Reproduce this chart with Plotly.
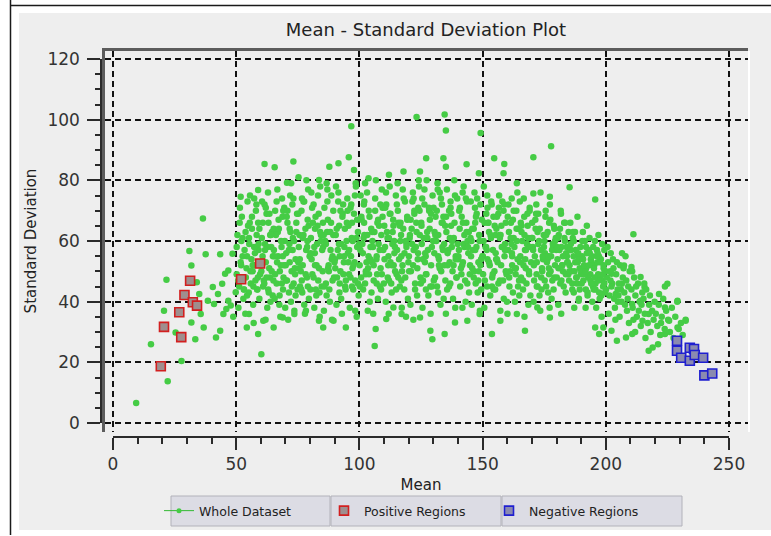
import plotly.graph_objects as go

# ---------------- data ----------------
whole_mean = [
    9.4, 15.4, 22.2, 27.8, 21.7, 20.7, 25.4, 31.8, 31.0, 36.5, 31.8, 37.6, 34.0, 35.0, 35.6, 36.8, 33.4,
    40.5, 43.5, 44.3, 42.6, 45.5, 46.8, 46.0, 44.8, 41.8, 43.5, 46.8, 48.5, 49.8, 47.8, 48.8, 41.0, 38.5,
    # top outliers
    61.5, 65.6, 73.2, 87.8, 91.5, 95.7, 96.7, 75.3, 70.6, 58.9, 51.8, 83.6, 97.8, 123.2, 134.6, 135.1,
    149.2, 127.1, 134.1, 135.1, 124.6, 143.5, 148.5, 103.7, 112.0, 117.9, 177.8, 170.6, 154.7, 158.8,
    158.5, 163.9, 185.3, 195.7, 170.6, 177.3, 211.2,
    # lower edge
    60.2, 58.9, 54.3, 55.2, 61.0, 65.2, 68.9, 73.6, 78.3, 83.6, 85.3, 89.5, 94.5, 98.3, 106.2, 110.9,
    129.6, 128.8, 134.6, 138.8, 143.8, 148.8, 124.6, 117.1, 113.8, 153.8, 167.2, 177.3, 163.9, 157.2,
    172.2, 189.0, 195.7, 197.3,
    # right tail
    207.4, 210.4, 225.0, 215.7, 221.6, 229.1, 224.0, 217.4, 214.9, 232.4, 229.1, 224.0, 219.0, 217.4,
    208.2, 204.5, 210.7, 202.3, 199.0, 225.7, 214.1, 210.7, 204.0, 206.5, 202.3, 214.1,
    # dense body
    50.5, 51.2, 51.8, 52.3, 52.9, 53.4, 53.9, 54.6, 50.9, 52.1, 53.1, 54.2, 54.8, 51.5, 53.7, 52.6, 50.2, 54.4,
    55.3, 55.9, 56.4, 56.9, 57.5, 58.0, 58.6, 59.1, 59.7, 55.6, 57.1, 58.3, 59.4, 56.2, 57.8, 58.9, 55.1, 59.8, 57.3, 56.7,
    60.4, 60.9, 61.5, 62.0, 62.6, 63.1, 63.7, 64.2, 64.8, 60.7, 61.9, 62.9, 63.4, 64.5, 61.2, 62.3, 63.9, 64.9, 60.2, 61.7, 63.0,
    65.3, 65.8, 66.4, 66.9, 67.5, 68.1, 68.6, 69.2, 69.7, 65.6, 66.6, 67.2, 67.9, 68.4, 69.0, 69.5, 66.1, 67.7, 68.9, 65.1, 69.9,
    70.3, 70.8, 71.4, 71.9, 72.5, 73.0, 73.6, 74.1, 74.7, 70.6, 71.6, 72.2, 72.8, 73.3, 74.4, 70.1, 71.1, 72.9, 73.9, 74.9, 71.7,
    75.4, 75.9, 76.5, 77.0, 77.6, 78.1, 78.7, 79.2, 79.8, 75.7, 76.8, 77.3, 78.4, 79.5, 76.2, 77.9, 79.0, 75.2, 78.9, 76.6,
    80.3, 80.9, 81.4, 81.9, 82.5, 83.0, 83.6, 84.1, 84.7, 80.6, 81.7, 82.2, 82.8, 83.3, 84.4, 80.1, 81.1, 83.9, 84.9, 82.0,
    85.3, 85.8, 86.4, 86.9, 87.5, 88.0, 88.6, 89.1, 89.7, 85.6, 86.1, 87.2, 87.8, 88.3, 89.4, 85.1, 86.7, 88.9, 87.0, 89.9,
    90.4, 90.9, 91.5, 92.0, 92.6, 93.1, 93.7, 94.2, 94.8, 90.7, 91.2, 91.8, 92.3, 92.9, 93.4, 94.5, 90.1, 91.9, 93.9, 94.9,
    95.3, 95.8, 96.4, 96.9, 97.5, 98.0, 98.6, 99.1, 99.7, 95.6, 96.1, 97.2, 97.8, 98.3, 99.4, 95.1, 96.6, 98.9, 99.9, 97.0,
    100.4, 100.9, 101.5, 102.0, 102.6, 103.1, 103.7, 104.2, 104.8, 100.7, 101.2, 101.8, 102.3, 102.9, 103.4, 104.5, 100.1, 101.9, 103.9, 104.9,
    105.3, 105.8, 106.4, 106.9, 107.5, 108.0, 108.6, 109.1, 109.7, 105.6, 106.1, 107.2, 107.8, 108.3, 109.4, 105.1, 106.6, 108.9, 107.0, 109.9,
    110.4, 110.9, 111.5, 112.0, 112.6, 113.1, 113.7, 114.2, 114.8, 110.7, 111.2, 111.8, 112.3, 112.9, 113.4, 114.5, 110.1, 111.9, 113.9, 114.9,
    115.3, 115.8, 116.4, 116.9, 117.5, 118.0, 118.6, 119.1, 119.7, 115.6, 116.1, 117.2, 117.8, 118.3, 119.4, 115.1, 116.6, 118.9, 117.0, 119.9,
    120.4, 120.9, 121.5, 122.0, 122.6, 123.1, 123.7, 124.2, 124.8, 120.7, 121.2, 121.8, 122.3, 122.9, 123.4, 124.5, 120.1, 121.9, 123.9, 124.9,
    125.3, 125.8, 126.4, 126.9, 127.5, 128.0, 128.6, 129.1, 129.7, 125.6, 126.1, 127.2, 127.8, 128.3, 129.4, 125.1, 126.6, 128.9, 127.0, 129.9,
    130.4, 130.9, 131.5, 132.0, 132.6, 133.1, 133.7, 134.2, 134.8, 130.7, 131.2, 131.8, 132.3, 132.9, 133.4, 134.5, 130.1, 131.9, 133.9, 134.9,
    135.3, 135.8, 136.4, 136.9, 137.5, 138.0, 138.6, 139.1, 139.7, 135.6, 136.1, 137.2, 137.8, 138.3, 139.4, 135.1, 136.6, 138.9, 137.0, 139.9,
    140.4, 140.9, 141.5, 142.0, 142.6, 143.1, 143.7, 144.2, 144.8, 140.7, 141.2, 141.8, 142.3, 142.9, 143.4, 144.5, 140.1, 141.9, 143.9, 144.9,
    145.3, 145.8, 146.4, 146.9, 147.5, 148.0, 148.6, 149.1, 149.7, 145.6, 146.1, 147.2, 147.8, 148.3, 149.4, 145.1, 146.6, 148.9, 147.0, 149.9,
    150.4, 150.9, 151.5, 152.0, 152.6, 153.1, 153.7, 154.2, 154.8, 150.7, 151.2, 151.8, 152.3, 152.9, 153.4, 154.5, 150.1, 151.9, 153.9, 154.9,
    155.3, 155.8, 156.4, 156.9, 157.5, 158.0, 158.6, 159.1, 159.7, 155.6, 156.1, 157.2, 157.8, 158.3, 159.4, 155.1, 156.6, 158.9, 157.0, 159.9,
    160.4, 160.9, 161.5, 162.0, 162.6, 163.1, 163.7, 164.2, 164.8, 160.7, 161.2, 161.8, 162.3, 162.9, 163.4, 164.5, 160.1, 161.9, 163.9, 164.9,
    165.3, 165.8, 166.4, 166.9, 167.5, 168.0, 168.6, 169.1, 169.7, 165.6, 166.1, 167.2, 167.8, 168.3, 169.4, 165.1, 166.6, 168.9, 167.0, 169.9,
    170.4, 170.9, 171.5, 172.0, 172.6, 173.1, 173.7, 174.2, 174.8, 170.7, 171.2, 171.8, 172.3, 172.9, 173.4, 174.5, 170.1, 171.9, 173.9, 174.9,
    175.3, 175.8, 176.4, 176.9, 177.5, 178.0, 178.6, 179.1, 179.7, 175.6, 176.1, 177.2, 177.8, 178.3, 179.4, 175.1, 176.6, 178.9, 177.0, 179.9,
    180.4, 180.9, 181.5, 182.0, 182.6, 183.1, 183.7, 184.2, 184.8, 180.7, 181.2, 181.8, 182.3, 182.9, 183.4, 184.5, 180.1, 181.9, 183.9, 184.9,
    185.3, 185.8, 186.4, 186.9, 187.5, 188.0, 188.6, 189.1, 189.7, 185.6, 186.1, 187.2, 187.8, 188.3, 189.4, 185.1, 186.6, 188.9, 187.0, 189.9,
    190.4, 190.9, 191.5, 192.0, 192.6, 193.1, 193.7, 194.2, 194.8, 190.7, 191.2, 191.8, 192.3, 192.9, 193.4, 194.5, 190.1, 191.9, 193.9, 194.9,
    195.3, 195.8, 196.4, 196.9, 197.5, 198.0, 198.6, 199.1, 199.7, 195.6, 196.1, 197.2, 197.8, 198.3, 199.4, 195.1, 196.6, 198.9, 197.0, 199.9,
    200.4, 200.9, 201.5, 202.0, 202.6, 203.1, 203.7, 204.2, 204.8, 200.7, 201.2, 201.8, 202.3, 202.9, 203.4, 204.5, 200.1, 201.9, 203.9, 204.9,
    205.3, 205.8, 206.4, 206.9, 207.5, 208.0, 208.6, 209.1, 209.7, 205.6, 206.1, 207.2, 207.8, 208.3, 209.4, 205.1, 206.6, 208.9,
    210.4, 210.9, 211.5, 212.0, 212.6, 213.1, 213.7, 214.2, 214.8, 210.7, 211.2, 212.3, 213.4, 214.5, 211.9,
    215.3, 215.8, 216.4, 217.0, 217.6, 218.2, 218.8, 219.4, 216.1, 217.9, 219.8, 215.6,
    220.3, 220.9, 221.5, 222.1, 222.7, 223.3, 223.9, 224.5, 221.2, 224.0, 222.4,
    225.3, 226.0, 226.8, 227.5, 228.2, 229.0, 229.6, 230.5, 231.2, 232.4,
    # dense body, second pass
    50.2, 50.8, 51.4, 52.0, 52.6, 53.2, 53.8, 54.4,
    55.2, 55.8, 56.4, 57.0, 57.6, 58.2, 58.8, 59.4,
    60.2, 60.8, 61.4, 62.0, 62.6, 63.2, 63.8, 64.4,
    65.2, 65.8, 66.4, 67.0, 67.6, 68.2, 68.8, 69.4,
    70.2, 70.8, 71.4, 72.0, 72.6, 73.2, 73.8, 74.4,
    75.2, 75.8, 76.4, 77.0, 77.6, 78.2, 78.8, 79.4,
    80.2, 80.8, 81.4, 82.0, 82.6, 83.2, 83.8, 84.4,
    85.2, 85.8, 86.4, 87.0, 87.6, 88.2, 88.8, 89.4,
    90.2, 90.8, 91.4, 92.0, 92.6, 93.2, 93.8, 94.4,
    95.2, 95.8, 96.4, 97.0, 97.6, 98.2, 98.8, 99.4,
    100.2, 100.8, 101.4, 102.0, 102.6, 103.2, 103.8, 104.4,
    105.2, 105.8, 106.4, 107.0, 107.6, 108.2, 108.8, 109.4,
    110.2, 110.8, 111.4, 112.0, 112.6, 113.2, 113.8, 114.4,
    115.2, 115.8, 116.4, 117.0, 117.6, 118.2, 118.8, 119.4,
    120.2, 120.8, 121.4, 122.0, 122.6, 123.2, 123.8, 124.4,
    125.2, 125.8, 126.4, 127.0, 127.6, 128.2, 128.8, 129.4,
    130.2, 130.8, 131.4, 132.0, 132.6, 133.2, 133.8, 134.4,
    135.2, 135.8, 136.4, 137.0, 137.6, 138.2, 138.8, 139.4,
    140.2, 140.8, 141.4, 142.0, 142.6, 143.2, 143.8, 144.4,
    145.2, 145.8, 146.4, 147.0, 147.6, 148.2, 148.8, 149.4,
    150.2, 150.8, 151.4, 152.0, 152.6, 153.2, 153.8, 154.4,
    155.2, 155.8, 156.4, 157.0, 157.6, 158.2, 158.8, 159.4,
    160.2, 160.8, 161.4, 162.0, 162.6, 163.2, 163.8, 164.4,
    165.2, 165.8, 166.4, 167.0, 167.6, 168.2, 168.8, 169.4,
    170.2, 170.8, 171.4, 172.0, 172.6, 173.2, 173.8, 174.4,
    175.2, 175.8, 176.4, 177.0, 177.6, 178.2, 178.8, 179.4,
    180.2, 180.8, 181.4, 182.0, 182.6, 183.2, 183.8, 184.4,
    185.2, 185.8, 186.4, 187.0, 187.6, 188.2, 188.8, 189.4,
    190.2, 190.8, 191.4, 192.0, 192.6, 193.2, 193.8, 194.4,
    195.2, 195.8, 196.4, 197.0, 197.6, 198.2, 198.8, 199.4,
    # dense body, third pass
    55.5, 56.7, 57.3, 58.5, 59.1,
    60.5, 61.7, 62.3, 63.5, 64.1,
    65.5, 66.7, 67.3, 68.5, 69.1,
    70.5, 71.7, 72.3, 73.5, 74.1,
    75.5, 76.7, 77.3, 78.5, 79.1,
    80.5, 81.7, 82.3, 83.5, 84.1,
    85.5, 86.7, 87.3, 88.5, 89.1,
    90.5, 91.7, 92.3, 93.5, 94.1,
    95.5, 96.7, 97.3, 98.5, 99.1,
    100.5, 101.7, 102.3, 103.5, 104.1,
    105.5, 106.7, 107.3, 108.5, 109.1,
    110.5, 111.7, 112.3, 113.5, 114.1,
    115.5, 116.7, 117.3, 118.5, 119.1,
    120.5, 121.7, 122.3, 123.5, 124.1,
    125.5, 126.7, 127.3, 128.5, 129.1,
    130.5, 131.7, 132.3, 133.5, 134.1,
    135.5, 136.7, 137.3, 138.5, 139.1,
    140.5, 141.7, 142.3, 143.5, 144.1,
    145.5, 146.7, 147.3, 148.5, 149.1,
    150.5, 151.7, 152.3, 153.5, 154.1,
    155.5, 156.7, 157.3, 158.5, 159.1,
    160.5, 161.7, 162.3, 163.5, 164.1,
    165.5, 166.7, 167.3, 168.5, 169.1,
    170.5, 171.7, 172.3, 173.5, 174.1,
    175.5, 176.7, 177.3, 178.5, 179.1,
    180.5, 181.7, 182.3, 183.5, 184.1,
    185.5, 186.7, 187.3, 188.5, 189.1,
    190.5, 191.7, 192.3, 193.5, 194.1,
    195.5, 196.7, 197.3, 198.5, 199.1,
]
whole_sd = [
    6.6, 26.0, 13.8, 20.4, 47.2, 37.0, 29.8, 33.1, 56.7, 67.4, 51.9, 55.6, 46.4, 42.5, 35.9, 31.5, 27.6,
    44.8, 55.6, 45.9, 42.5, 49.2, 40.3, 37.6, 35.9, 28.2, 30.4, 50.3, 55.8, 43.1, 38.7, 35.0, 39.2, 40.3,
    # top outliers
    85.4, 84.3, 86.2, 84.5, 85.6, 87.6, 97.8, 81.0, 79.2, 76.8, 74.6, 80.1, 83.4, 100.9, 101.7, 96.4,
    95.6, 87.3, 87.3, 84.5, 82.9, 85.3, 82.3, 80.7, 81.8, 82.9, 91.2, 87.6, 87.3, 85.4,
    82.3, 79.0, 77.7, 73.7, 75.7, 74.6, 62.2,
    # lower edge
    22.7, 29.3, 31.5, 35.9, 33.7, 31.5, 34.8, 35.9, 37.0, 33.7, 31.5, 33.7, 31.5, 37.0, 25.4, 34.3,
    27.6, 30.4, 29.3, 33.1, 33.7, 35.9, 34.8, 35.9, 38.1, 29.3, 30.4, 34.8, 35.9, 33.7,
    38.1, 40.3, 31.5, 29.3,
    # right tail
    51.9, 51.4, 45.9, 44.8, 42.5, 40.3, 38.1, 35.9, 33.7, 33.7, 31.5, 29.3, 24.9, 23.8,
    28.2, 27.1, 29.3, 30.4, 31.5, 33.7, 40.3, 39.2, 42.5, 45.9, 49.2, 48.1,
    # dense body
    62, 45, 53, 68, 41, 57, 48, 73, 38, 60, 44, 51, 65, 71, 36, 55, 49, 42,
    59, 46, 64, 39, 52, 70, 44, 57, 49, 75, 33, 62, 41, 54, 47, 66, 43, 52, 58, 50,
    61, 45, 72, 53, 38, 66, 48, 58, 42, 55, 34, 76, 51, 63, 47, 69, 40, 55, 50, 59, 44,
    57, 70, 46, 63, 39, 52, 74, 48, 60, 41, 53, 67, 35, 58, 44, 71, 62, 50, 55, 47, 38,
    56, 66, 43, 75, 50, 61, 37, 54, 69, 47, 59, 40, 72, 46, 63, 52, 34, 57, 49, 44, 64,
    58, 45, 70, 52, 39, 64, 48, 77, 55, 62, 43, 73, 57, 41, 50, 36, 67, 53, 60, 47,
    61, 49, 72, 56, 42, 65, 51, 78, 45, 54, 38, 68, 59, 47, 62, 44, 66, 35, 57, 52,
    58, 71, 46, 63, 52, 40, 75, 55, 48, 37, 60, 67, 44, 57, 62, 50, 42, 34, 73, 53,
    62, 48, 76, 55, 41, 68, 53, 45, 60, 39, 57, 65, 50, 36, 72, 47, 54, 43, 58, 66,
    56, 49, 71, 61, 44, 53, 78, 58, 42, 65, 38, 51, 69, 47, 63, 74, 55, 35, 59, 45,
    57, 67, 44, 62, 50, 76, 55, 40, 64, 48, 59, 72, 46, 53, 37, 58, 52, 66, 49, 43,
    60, 47, 70, 54, 41, 65, 51, 77, 57, 36, 63, 49, 59, 45, 68, 53, 31, 62, 55, 46,
    58, 72, 48, 61, 53, 43, 67, 56, 75, 40, 63, 55, 69, 46, 59, 50, 65, 36, 52, 44,
    57, 66, 45, 62, 52, 74, 48, 59, 41, 70, 54, 38, 64, 56, 68, 49, 60, 35, 47, 53,
    61, 50, 73, 57, 44, 66, 54, 78, 48, 39, 64, 52, 69, 58, 42, 62, 55, 34, 71, 46,
    59, 47, 72, 55, 63, 42, 67, 52, 75, 38, 61, 49, 57, 70, 45, 66, 53, 36, 44, 60,
    56, 68, 45, 62, 51, 74, 58, 41, 65, 48, 60, 77, 54, 39, 66, 52, 71, 43, 57, 47,
    63, 52, 70, 46, 58, 41, 66, 55, 74, 44, 57, 65, 50, 61, 48, 36, 53, 38, 71, 59,
    57, 45, 68, 53, 62, 40, 73, 56, 49, 64, 51, 38, 59, 47, 66, 43, 54, 76, 60, 52,
    55, 64, 48, 71, 58, 43, 62, 52, 67, 39, 57, 46, 74, 53, 44, 61, 50, 37, 66, 55,
    60, 47, 69, 54, 63, 42, 72, 57, 50, 38, 58, 45, 66, 52, 61, 44, 55, 75, 48, 65,
    56, 68, 46, 62, 52, 73, 41, 59, 49, 64, 53, 37, 58, 47, 66, 44, 71, 55, 61, 40,
    57, 45, 66, 52, 61, 40, 70, 54, 47, 63, 50, 74, 43, 58, 49, 64, 36, 56, 60, 42,
    55, 63, 44, 68, 51, 59, 39, 71, 53, 48, 60, 57, 46, 65, 42, 73, 52, 49, 35, 61,
    58, 47, 64, 53, 69, 42, 57, 50, 62, 40, 55, 72, 45, 60, 37, 54, 66, 49, 44, 58,
    56, 45, 63, 51, 67, 41, 58, 48, 61, 70, 53, 38, 55, 47, 52, 60, 43, 65, 49, 57,
    54, 62, 46, 58, 50, 66, 43, 55, 49, 39, 57, 69, 52, 45, 60, 53, 48, 36, 56, 63,
    52, 59, 44, 55, 63, 48, 53, 41, 58, 66, 50, 38, 57, 46, 51, 47, 61, 55, 43, 49,
    55, 47, 60, 51, 42, 57, 49, 53, 45, 63, 52, 38, 56, 48, 61, 40, 50, 44, 54, 58,
    52, 46, 57, 49, 41, 54, 47, 51, 43, 60, 38, 55, 48, 35, 57, 44, 53, 45, 62, 50,
    48, 53, 42, 56, 46, 51, 38, 49, 44, 58, 36, 50, 45, 54, 41, 53, 44, 47, 34, 40,
    46, 52, 40, 48, 43, 55, 37, 45, 50, 35, 44, 51, 39, 47, 33, 42, 56, 41,
    44, 38, 48, 42, 35, 46, 40, 32, 43, 50, 34, 45, 37, 39, 30,
    41, 36, 44, 33, 39, 30, 37, 34, 28, 42, 40, 46,
    36, 32, 39, 29, 35, 41, 31, 37, 26, 45, 33,
    34, 30, 38, 28, 35, 40, 31, 33, 29, 34,
    # dense body, second pass
    58, 47, 66, 52, 61, 44, 63, 55,
    61, 50, 68, 45, 56, 72, 48, 64,
    53, 66, 46, 71, 58, 43, 62, 50,
    64, 49, 73, 55, 42, 60, 68, 52,
    47, 70, 57, 63, 45, 74, 51, 66,
    69, 54, 44, 61, 73, 49, 58, 65,
    56, 71, 48, 64, 52, 75, 43, 60,
    66, 45, 59, 77, 50, 63, 54, 70,
    51, 64, 73, 46, 59, 69, 55, 44,
    70, 57, 48, 66, 52, 75, 61, 46,
    45, 68, 56, 73, 49, 62, 70, 54,
    63, 52, 74, 46, 67, 57, 44, 71,
    54, 76, 61, 47, 69, 52, 65, 58,
    72, 48, 65, 55, 77, 44, 60, 67,
    50, 67, 59, 74, 46, 63, 56, 70,
    65, 54, 77, 49, 61, 71, 45, 58,
    47, 62, 70, 55, 76, 50, 66, 59,
    68, 56, 45, 73, 60, 52, 75, 48,
    55, 71, 49, 66, 58, 74, 46, 63,
    73, 51, 64, 57, 69, 47, 60, 54,
    49, 66, 58, 71, 53, 62, 45, 68,
    62, 54, 69, 47, 65, 58, 72, 50,
    68, 48, 61, 55, 70, 51, 64, 45,
    53, 65, 47, 62, 57, 69, 50, 58,
    61, 52, 67, 45, 59, 64, 48, 55,
    47, 62, 54, 66, 50, 57, 44, 60,
    58, 51, 64, 47, 55, 61, 49, 53,
    50, 57, 46, 60, 53, 48, 56, 44,
    46, 54, 49, 58, 43, 52, 47, 55,
    51, 44, 55, 47, 53, 42, 49, 46,
    # dense body, third pass
    66, 52, 74, 44, 59,
    73, 57, 48, 69, 62,
    55, 77, 64, 46, 70,
    68, 53, 79, 60, 42,
    51, 74, 62, 80, 45,
    76, 58, 44, 69, 63,
    62, 79, 51, 66, 47,
    78, 59, 70, 49, 64,
    53, 72, 60, 79, 67,
    75, 61, 79, 51, 68,
    58, 80, 66, 72, 49,
    71, 52, 78, 63, 60,
    79, 66, 50, 73, 58,
    62, 76, 70, 51, 80,
    74, 56, 80, 64, 69,
    63, 79, 52, 72, 68,
    77, 61, 69, 80, 54,
    70, 52, 78, 63, 58,
    60, 76, 68, 50, 72,
    78, 57, 66, 73, 49,
    54, 75, 62, 70, 57,
    72, 59, 67, 51, 76,
    66, 74, 54, 61, 70,
    57, 69, 63, 76, 51,
    68, 55, 72, 59, 64,
    61, 70, 52, 66, 58,
    57, 63, 50, 68, 54,
    60, 50, 65, 56, 46,
    48, 56, 43, 59, 52,
]
positive_mean = [31.3, 29.0, 32.4, 34.1, 26.9, 20.7, 27.7, 19.4, 52.0, 59.7]
positive_sd = [46.9, 42.2, 39.8, 38.7, 36.5, 31.7, 28.3, 18.7, 47.4, 52.6]
negative_mean = [228.9, 228.9, 230.6, 234.1, 235.8, 234.1, 236.1, 239.5, 240.0, 243.2]
negative_sd = [27.1, 23.8, 21.5, 24.8, 24.4, 20.5, 22.4, 21.5, 15.7, 16.3]

x_tick_values = [0, 50, 100, 150, 200, 250]
y_tick_values = [0, 20, 40, 60, 80, 100, 120]

assert len(whole_mean) == len(whole_sd)

# ---------------- layout geometry (pixels) ----------------
W, H = 771, 536
L, R, T, B = 101, 748, 51, 437
PW, PH = R - L, B - T


def fx(p):
    return (p - L) / PW


def fy(p):
    return (B - p) / PH


FONT = "DejaVu Sans"
AX = "#2a2a2a"

fig = go.Figure()

# empty trace so that the framed grid subplot (x / y) is drawn
fig.add_trace(go.Scatter(x=[None], y=[None], xaxis="x", yaxis="y", mode="markers",
                         showlegend=False, hoverinfo="skip"))
fig.add_trace(go.Scatter(
    x=whole_mean, y=whole_sd, xaxis="x2", yaxis="y2", mode="markers",
    name="Whole Dataset", showlegend=False,
    marker=dict(symbol="circle", size=6.5, color="#45cc45", line=dict(width=0)),
    hoverinfo="skip"))
fig.add_trace(go.Scatter(
    x=[None], y=[None], xaxis="x2", yaxis="y2", mode="lines+markers",
    name="Whole Dataset", line=dict(color="#33b833", width=1),
    marker=dict(symbol="circle", size=5, color="#45cc45")))
fig.add_trace(go.Scatter(
    x=positive_mean, y=positive_sd, xaxis="x2", yaxis="y2", mode="markers",
    name="Positive Regions",
    marker=dict(symbol="square", size=9, color="#9f8e8e",
                line=dict(color="#d21f1f", width=1.6))))
fig.add_trace(go.Scatter(
    x=negative_mean, y=negative_sd, xaxis="x2", yaxis="y2", mode="markers",
    name="Negative Regions",
    marker=dict(symbol="square", size=9, color="#8a8ab0",
                line=dict(color="#1f1fd0", width=1.6))))

grid = dict(showgrid=True, gridcolor="#111111", gridwidth=1.6, griddash="6px,4px",
            zeroline=False, showticklabels=False, ticks="", fixedrange=True)

shapes = [
    dict(type="rect", xref="paper", yref="paper", x0=fx(19), x1=fx(771), y0=fy(530), y1=fy(13),
         fillcolor="#eeeeee", line=dict(width=0), layer="below"),
    dict(type="line", xref="paper", yref="paper", x0=fx(10.5), x1=fx(10.5), y0=fy(0), y1=fy(535),
         line=dict(color="#1a1a1a", width=1.5), layer="below"),
    dict(type="line", xref="paper", yref="paper", x0=fx(10), x1=fx(771), y0=fy(5.5), y1=fy(5.5),
         line=dict(color="#1a1a1a", width=1.5), layer="below"),
    dict(type="line", xref="paper", yref="paper", x0=fx(749), x1=fx(749), y0=fy(51), y1=fy(432),
         line=dict(color="#ffffff", width=2), layer="below"),
]
for x0, x1 in [(171, 330), (331, 501), (502, 682)]:
    shapes.append(dict(type="rect", xref="paper", yref="paper", x0=fx(x0), x1=fx(x1),
                       y0=fy(526), y1=fy(496), fillcolor="#dcdce4",
                       line=dict(color="#b2b2ba", width=1), layer="below"))

fig.update_layout(
    width=W, height=H,
    margin=dict(l=L, r=W - R, t=T, b=H - B, pad=0, autoexpand=False),
    paper_bgcolor="#ffffff", plot_bgcolor="rgba(0,0,0,0)",
    font=dict(family=FONT, color="#333333"),
    title=dict(text="Mean - Standard Deviation Plot", x=fx(426), xref="paper", xanchor="center",
               y=1 - 30 / H, yref="container", yanchor="middle",
               font=dict(family=FONT, size=18, color="#222222")),
    xaxis=dict(domain=[fx(105), 1], range=[-3.247, 257.7], tick0=0, dtick=50, anchor="y",
               showline=True, side="top", linecolor="#5c5c5c", linewidth=3, **grid),
    yaxis=dict(domain=[fy(432), 1], range=[-2.967, 122.64], tick0=0, dtick=20, anchor="x",
               showline=True, side="left", linecolor="#5c5c5c", linewidth=3, **grid),
    xaxis2=dict(domain=[fx(113), fx(729)], range=[0, 250], anchor="free", position=0, side="bottom",
                showline=True, linecolor=AX, linewidth=1.5, showgrid=False, zeroline=False,
                tickmode="array", tickvals=x_tick_values, ticks="outside", ticklen=12, tickwidth=1.5,
                tickcolor=AX, minor=dict(dtick=10, tick0=0, ticks="outside", ticklen=6, tickwidth=1.5,
                                         tickcolor=AX, showgrid=False),
                tickfont=dict(family=FONT, size=17, color="#333333"), fixedrange=True,
                title=dict(text="Mean", font=dict(family=FONT, size=15, color="#222222"), standoff=5)),
    yaxis2=dict(domain=[fy(423), fy(59)], range=[0, 120], anchor="free", position=0, side="left",
                showline=True, linecolor=AX, linewidth=1.5, showgrid=False, zeroline=False,
                tickmode="array", tickvals=y_tick_values, ticks="outside", ticklen=13, tickwidth=1.5,
                tickcolor=AX, minor=dict(dtick=5, tick0=0, ticks="outside", ticklen=5, tickwidth=1.5,
                                         tickcolor=AX, showgrid=False),
                ticklabelstandoff=4,
                tickfont=dict(family=FONT, size=17, color="#333333"), fixedrange=True,
                title=dict(text="Standard Deviation", font=dict(family=FONT, size=15, color="#222222"),
                           standoff=6)),
    legend=dict(orientation="h", x=fx(159), xanchor="left", y=fy(511), yanchor="middle",
                bgcolor="rgba(0,0,0,0)", borderwidth=0, entrywidth=120, entrywidthmode="pixels",
                itemwidth=30, font=dict(family=FONT, size=12.5, color="#222222")),
    shapes=shapes,
)

fig.write_html("out.html")
